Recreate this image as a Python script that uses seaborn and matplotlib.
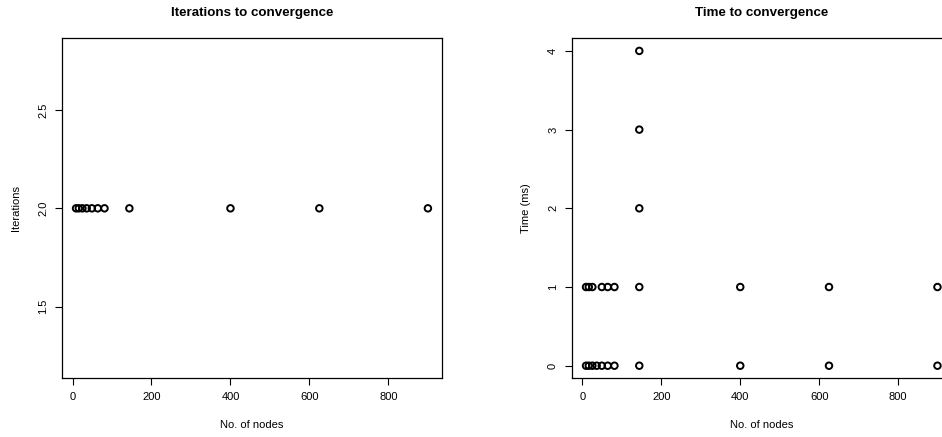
import numpy as np
import pandas as pd
import seaborn as sns
import matplotlib.pyplot as plt

# data (node counts are squares 3^2 .. 30^2)
iter_nodes = [9, 16, 25, 36, 49, 64, 81, 144, 400, 625, 900]
iterations = [2, 2, 2, 2, 2, 2, 2, 2, 2, 2, 2]

time_nodes = [9, 16, 25, 36, 49, 64, 81, 144, 400, 625, 900,
              9, 16, 25, 49, 64, 81, 144, 400, 625, 900,
              144, 144, 144]
time_ms = [0, 0, 0, 0, 0, 0, 0, 0, 0, 0, 0,
           1, 1, 1, 1, 1, 1, 1, 1, 1, 1,
           2, 3, 4]

x_ticks = [0, 200, 400, 600, 800]
iter_ticks = [1.5, 2.0, 2.5]
time_ticks = [0, 1, 2, 3, 4]

sns.set_style("ticks")
plt.rcParams['font.family'] = ['Liberation Sans', 'DejaVu Sans']
plt.rcParams['axes.linewidth'] = 0.9
plt.rcParams['text.color'] = 'black'
plt.rcParams['axes.labelcolor'] = 'black'


def r_range(vals):
    # R-style axis range: data range padded by 4 %
    lo, hi = min(vals), max(vals)
    if lo == hi:
        lo, hi = lo * 0.6, hi * 1.4
    pad = (hi - lo) * 0.04
    return lo - pad, hi + pad


def panel(ax, x, y, title, ylabel, yticks, fmt):
    df = pd.DataFrame({'x': x, 'y': y})
    sns.scatterplot(data=df, x='x', y='y', ax=ax, marker='o', s=22,
                    facecolors='none', edgecolor='black', linewidth=1.4)
    ax.set_xlim(*r_range(x))
    ax.set_ylim(*r_range(y))
    ax.set_xticks(x_ticks)
    ax.set_yticks(yticks)
    ax.set_yticklabels([fmt.format(t) for t in yticks])
    ax.tick_params(axis='both', length=5, width=0.8, labelsize=8, pad=5,
                   colors='black')
    ax.tick_params(axis='y', labelrotation=90)
    for lab in ax.get_yticklabels():
        lab.set_va('center')
    for sp in ax.spines.values():
        sp.set_visible(True)
        sp.set_color('black')
    ax.set_xlabel('No. of nodes', fontsize=8)
    ax.set_ylabel(ylabel, fontsize=8)
    ax.xaxis.label.set_va('center')
    ax.yaxis.label.set_va('center')
    ax.xaxis.set_label_coords(0.5, -0.137)
    ax.yaxis.set_label_coords(-0.12, 0.5)
    ax.set_title(title, fontsize=9.6, fontweight='bold', y=1.075, va='center',
                 pad=0, color='black')


fig = plt.figure(figsize=(9.42, 4.37), dpi=100)
ax1 = fig.add_axes([0.0658, 0.1343, 0.4034, 0.778])
ax2 = fig.add_axes([0.6072, 0.1343, 0.4029, 0.778])

panel(ax1, iter_nodes, iterations, 'Iterations to convergence', 'Iterations', iter_ticks, '{:.1f}')
panel(ax2, time_nodes, time_ms, 'Time to convergence', 'Time (ms)', time_ticks, '{:d}')

fig.savefig('out.png', dpi=100, facecolor='white')
